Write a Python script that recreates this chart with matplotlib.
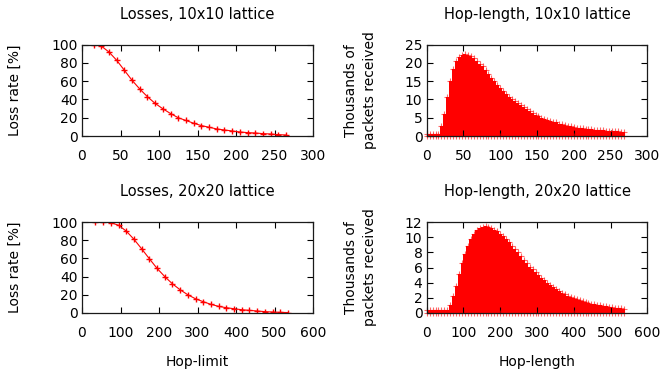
import matplotlib.pyplot as plt
import numpy as np

plt.rcParams['font.family'] = ['DejaVu Sans']
plt.rcParams['font.size'] = 10

# loss rate [%] against the hop limit
limit_10 = [15, 25, 35, 45, 55, 65, 75, 85, 95, 105, 115, 125, 135,
            145, 155, 165, 175, 185, 195, 205, 215, 225, 235, 245, 255, 265]
loss_10 = [100, 98.5, 92, 83, 72, 61, 51.5, 43, 35.7, 29.8, 24.6, 20, 17,
           14, 11.4, 9.6, 7.7, 6.6, 5.5, 4.4, 3.7, 3.3, 2.6, 2.2, 1.5, 1.1]

limit_20 = [35, 55, 75, 95, 115, 135, 155, 175, 195, 215, 235, 255, 275,
            295, 315, 335, 355, 375, 395, 415, 435, 455, 475, 495, 515, 535]
loss_20 = [100, 100, 99.3, 96.4, 90, 81, 70.5, 59.6, 49, 40, 32, 25.5, 20,
           15.6, 12.4, 9.5, 7.3, 5.8, 4.7, 3.6, 2.9, 2.2, 1.5, 1.1, 0.7, 0.5]

# received packets (thousands) per hop length, binned
bin_10 = 4
recv_10 = [0.5, 0.5, 0.5, 0.5, 0.6, 2.7, 6.0, 10.6, 15.0, 18.3, 20.5, 21.6,
           22.2, 22.4, 22.3, 21.8, 21.3, 20.6, 19.85, 19.1, 18.1, 17.1, 16.0,
           15.0, 14.1, 13.2, 12.4, 11.6, 10.8, 10.1, 9.6, 9.0, 8.45, 7.9,
           7.45, 6.9, 6.3, 5.8, 5.4, 5.0, 4.7, 4.4, 4.15, 3.95, 3.7, 3.4,
           3.2, 2.95, 2.75, 2.65, 2.5, 2.3, 2.2, 2.1, 2.0, 1.9, 1.8, 1.75,
           1.7, 1.6, 1.55, 1.5, 1.4, 1.35, 1.3, 1.25, 1.2, 1.1]

bin_20 = 8
recv_20 = [0.35, 0.35, 0.35, 0.35, 0.35, 0.35, 0.35, 0.35, 1.0, 2.2, 3.6,
           5.2, 6.6, 7.8, 8.9, 9.8, 10.45, 10.9, 11.2, 11.4, 11.45, 11.4,
           11.2, 11.0, 10.75, 10.45, 10.1, 9.7, 9.3, 8.9, 8.5, 8.0, 7.5, 7.0,
           6.55, 6.1, 5.75, 5.4, 5.0, 4.65, 4.3, 4.0, 3.7, 3.4, 3.15, 2.9,
           2.7, 2.5, 2.3, 2.15, 2.0, 1.85, 1.7, 1.55, 1.45, 1.35, 1.25, 1.2,
           1.1, 1.05, 0.96, 0.9, 0.82, 0.76, 0.7, 0.65, 0.6, 0.55]

W, H = 665, 375
fig = plt.figure(figsize=(W / 100, H / 100), dpi=100)


def box(l, t, r, b):
    return fig.add_axes([l / W, 1 - b / H, (r - l) / W, (b - t) / H])


def frame(ax):
    for s in ax.spines.values():
        s.set_linewidth(0.9)
        s.set_color('#1a1a1a')
    ax.tick_params(direction='in', top=True, right=True, length=4, width=0.8)
    ax.tick_params(axis='x', pad=9.5)
    ax.tick_params(axis='y', pad=3)


def losses(ax, x, y, xmax, title):
    ax.plot(x, y, color='red', lw=0.8, marker='+', ms=5, mew=1)
    ax.set_xlim(0, xmax)
    ax.set_ylim(0, 100)
    ax.set_xticks(np.linspace(0, xmax, 7))
    ax.set_yticks(np.arange(0, 101, 20))
    ax.set_title(title, pad=18.5, fontsize=10.5)
    ax.set_ylabel('Loss rate [%]', va='center')
    ax.yaxis.set_label_coords(-0.29, 0.5)
    frame(ax)


def hops(ax, step, y, xmax, ymax, ystep, title):
    x = np.arange(len(y)) * step
    ax.bar(x, y, width=step, color='red', linewidth=0)
    ax.plot(x, y, '+', color='red', ms=4, mew=0.8, alpha=0.6, clip_on=False)
    ax.plot(x, np.zeros(len(x)), '+', color='red', ms=4, mew=0.8,
            alpha=0.6, clip_on=False)
    ax.set_xlim(0, xmax)
    ax.set_ylim(0, ymax)
    ax.set_xticks(np.linspace(0, xmax, 7))
    ax.set_yticks(np.arange(0, ymax + 0.1, ystep))
    ax.set_title(title, pad=18.5, fontsize=10.5)
    ax.set_ylabel('Thousands of\npackets received', va='center',
                  linespacing=1.45)
    ax.yaxis.set_label_coords(-0.30, 0.5)
    frame(ax)


ax1 = box(82, 44.7, 313, 136)
losses(ax1, limit_10, loss_10, 300, 'Losses, 10x10 lattice')

ax2 = box(426.7, 44.7, 647.3, 136)
hops(ax2, bin_10, recv_10, 300, 25, 5, 'Hop-length, 10x10 lattice')

ax3 = box(82, 222, 313, 313)
losses(ax3, limit_20, loss_20, 600, 'Losses, 20x20 lattice')
ax3.set_xlabel('Hop-limit', labelpad=11)

ax4 = box(426.7, 222, 647.3, 313)
hops(ax4, bin_20, recv_20, 600, 12, 2, 'Hop-length, 20x20 lattice')
ax4.set_xlabel('Hop-length', labelpad=11)

fig.savefig('out.png', dpi=100)
